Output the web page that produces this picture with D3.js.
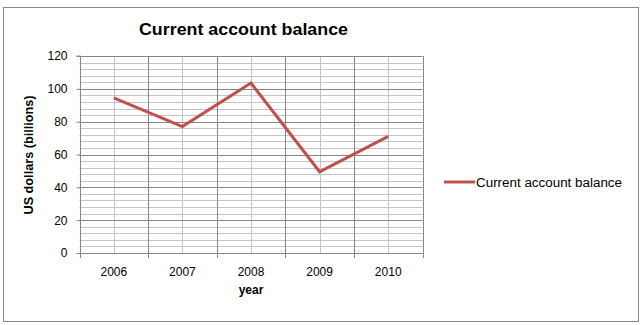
<!DOCTYPE html>
<html><head><meta charset="utf-8">
<script src="https://cdn.jsdelivr.net/npm/d3@7"></script>
<style>
html,body{margin:0;padding:0;background:#fff;}
text{font-family:"Liberation Sans",Arial,sans-serif;fill:#000;}
</style></head>
<body>
<svg id="c" width="643" height="325"></svg>
<script>
const years = ["2006","2007","2008","2009","2010"];
const balance = [94.5, 77, 103.5, 49.5, 71];
const yTicks = [0,20,40,60,80,100,120];
const title = "Current account balance";
const seriesName = "Current account balance";
const xTitle = "year";
const yTitle = "US dollars (billions)";

const svg = d3.select("#c");
const L = 79.5, R = 422.5, T = 56, B = 253;

svg.append("rect").attr("x",3.5).attr("y",7.5).attr("width",635).attr("height",314)
  .attr("fill","#fff").attr("stroke","#888").attr("stroke-width",1);

const x = d3.scaleBand().domain(years).range([L,R]);
const y = d3.scaleLinear().domain([0,120]).range([B,T]);

// minor horizontal grid
const minor = d3.range(0,121,4).filter(v=>v%20!==0);
svg.append("g").selectAll("line").data(minor).join("line")
  .attr("x1",L).attr("x2",R).attr("y1",d=>Math.round(y(d))+0.5).attr("y2",d=>Math.round(y(d))+0.5)
  .attr("stroke","#c4c4c4").attr("stroke-width",1);
// minor vertical grid (category centers)
svg.append("g").selectAll("line").data(years).join("line")
  .attr("x1",d=>Math.round(x(d)+x.bandwidth()/2)+0.5).attr("x2",d=>Math.round(x(d)+x.bandwidth()/2)+0.5)
  .attr("y1",T).attr("y2",B).attr("stroke","#c4c4c4").attr("stroke-width",1);
// major horizontal grid
svg.append("g").selectAll("line").data(yTicks.filter(v=>v>0)).join("line")
  .attr("x1",L).attr("x2",R).attr("y1",d=>Math.round(y(d))+0.5).attr("y2",d=>Math.round(y(d))+0.5)
  .attr("stroke","#868686").attr("stroke-width",1);
// major vertical grid (category boundaries)
const bounds = years.map(d=>x(d)).concat([R]).slice(1);
svg.append("g").selectAll("line").data(bounds).join("line")
  .attr("x1",d=>Math.round(d)+0.5).attr("x2",d=>Math.round(d)+0.5)
  .attr("y1",T).attr("y2",B).attr("stroke","#868686").attr("stroke-width",1);

// Y axis
const yAxis = svg.append("g").attr("transform",`translate(${Math.round(L)+0.5},0)`)
  .call(d3.axisLeft(y).tickValues(yTicks).tickSize(4).tickPadding(9).tickFormat(d3.format("d")));
yAxis.select(".domain").attr("stroke","#868686").attr("d",`M-4,${T}H0V${B}`);
yAxis.selectAll(".tick line").attr("stroke","#868686");
yAxis.selectAll("text").style("font-size","12px").attr("fill","#000");

// X axis
const xAxis = svg.append("g").attr("transform",`translate(0,${Math.round(B)+0.5})`)
  .call(d3.axisBottom(x).tickSize(0).tickPadding(14));
xAxis.select(".domain").attr("stroke","#868686").attr("d",`M${L},0H${R}`);
xAxis.selectAll("text").style("font-size","12px").attr("fill","#000");
svg.append("g").selectAll("line").data(years.map(d=>x(d)).concat([R])).join("line")
  .attr("x1",d=>Math.round(d)+0.5).attr("x2",d=>Math.round(d)+0.5)
  .attr("y1",B).attr("y2",B+5).attr("stroke","#868686");

// line
const line = d3.line().x((d,i)=>x(years[i])+x.bandwidth()/2).y(d=>y(d));
svg.append("path").datum(balance).attr("d",line).attr("fill","none")
  .attr("stroke","#c0504d").attr("stroke-width",3).attr("stroke-linejoin","miter");

// titles
svg.append("text").attr("x",243.5).attr("y",35).attr("text-anchor","middle")
  .style("font-size","16px").style("font-weight","bold")
  .attr("textLength",209).attr("lengthAdjust","spacingAndGlyphs").text(title);
svg.append("text").attr("transform","translate(33,155) rotate(-90)").attr("text-anchor","middle")
  .style("font-size","12px").style("font-weight","bold")
  .attr("textLength",119).attr("lengthAdjust","spacingAndGlyphs").text(yTitle);
svg.append("text").attr("x",251).attr("y",294).attr("text-anchor","middle")
  .style("font-size","12px").style("font-weight","bold").text(xTitle);

// legend
svg.append("line").attr("x1",444).attr("x2",475).attr("y1",182).attr("y2",182)
  .attr("stroke","#c0504d").attr("stroke-width",3);
svg.append("text").attr("x",476).attr("y",186.5).style("font-size","12px")
  .attr("textLength",146).attr("lengthAdjust","spacingAndGlyphs").text(seriesName);
</script>
</body></html>
